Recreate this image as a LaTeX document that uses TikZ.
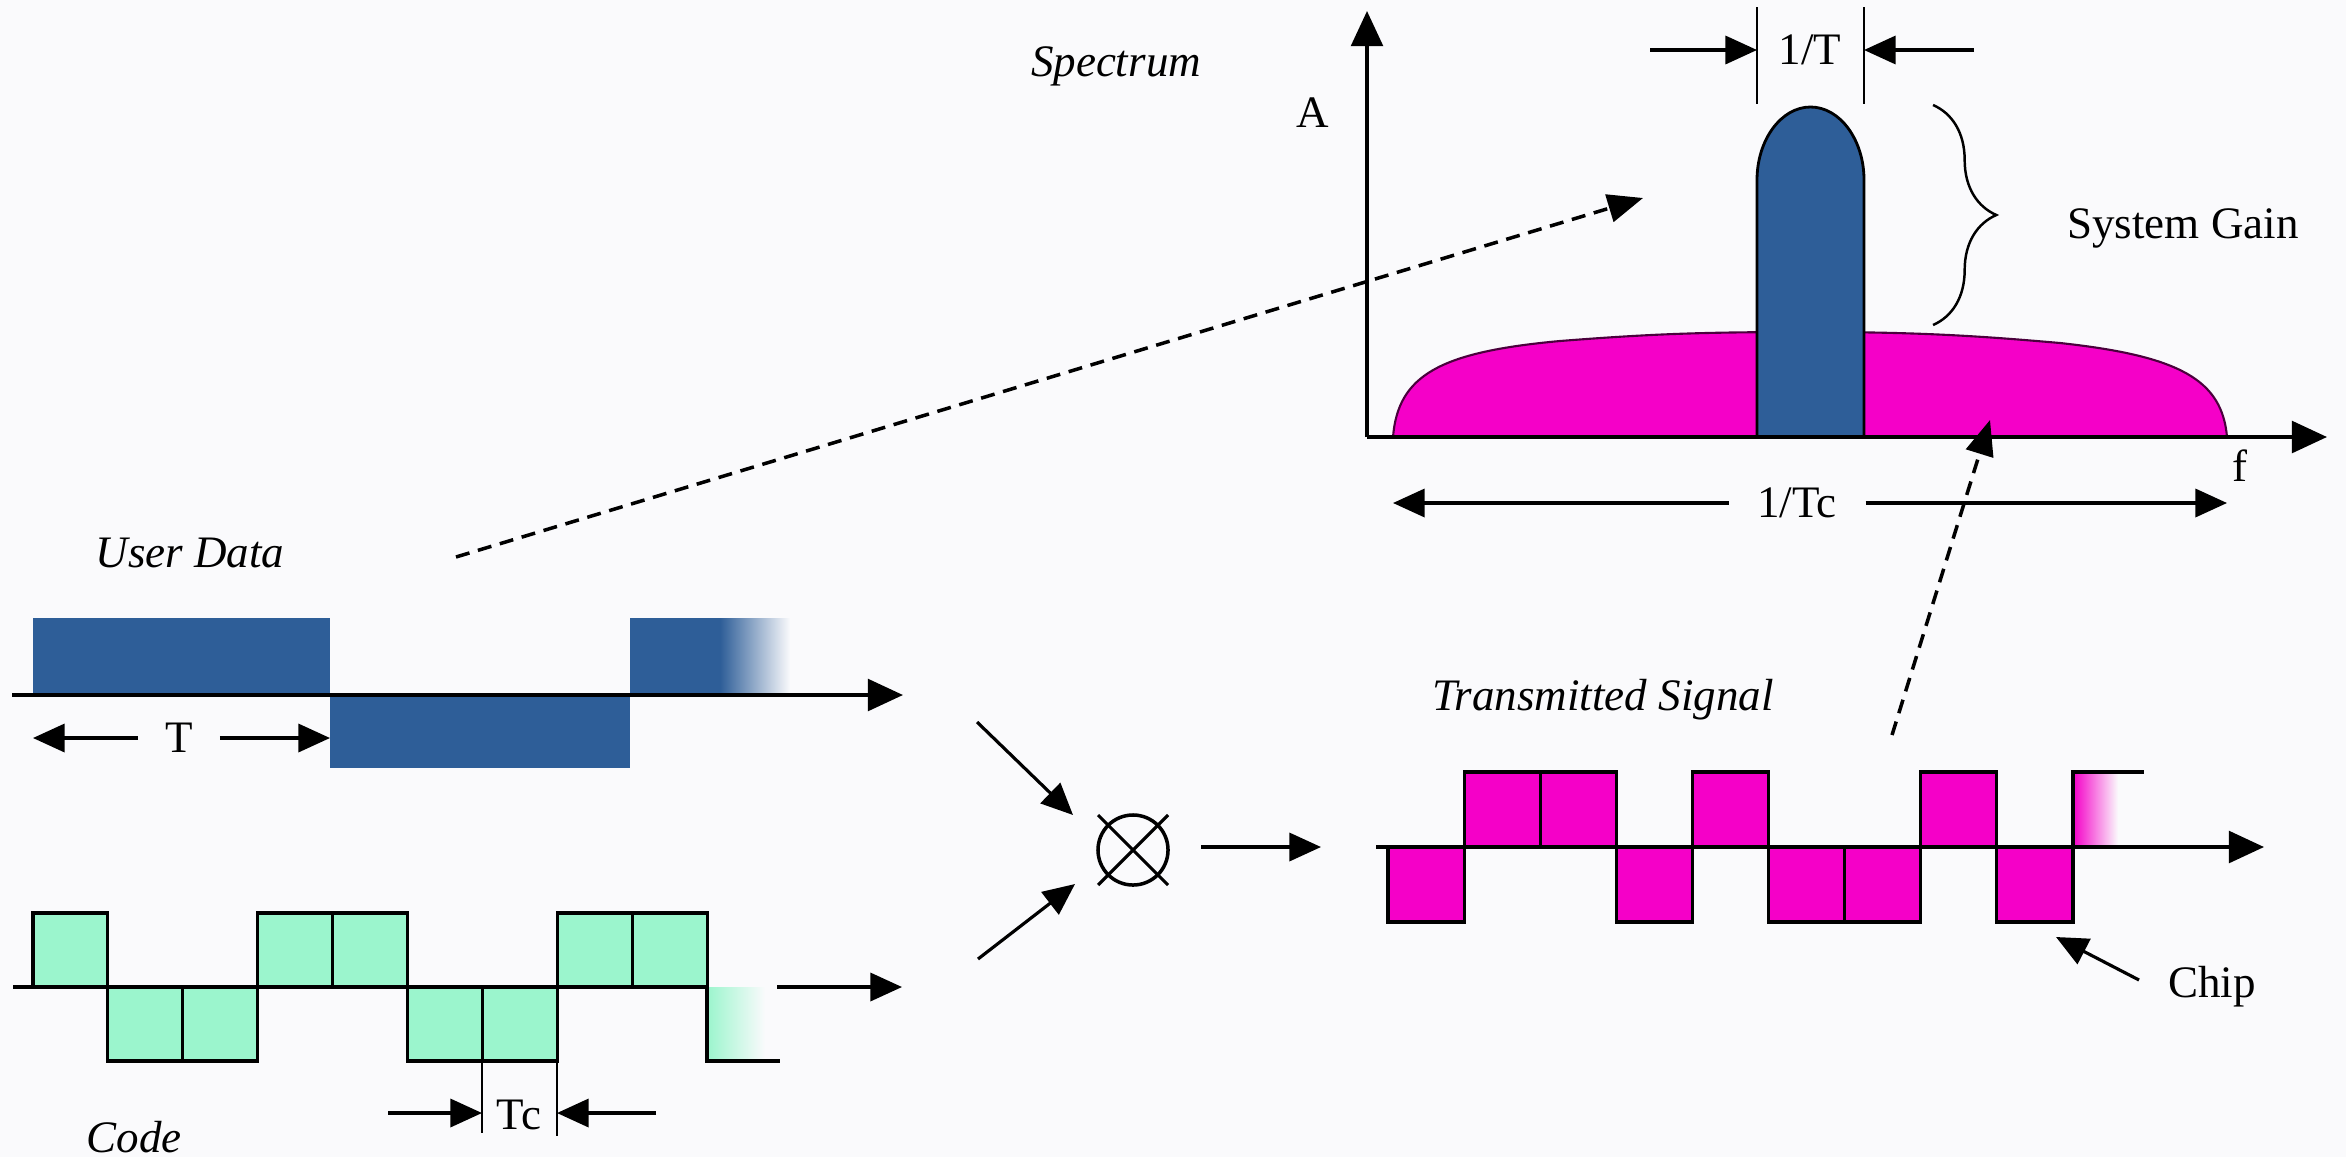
\documentclass[tikz,border=0pt]{standalone}
\usepackage{fontspec}
\setmainfont{Liberation Serif}
\usetikzlibrary{arrows.meta,decorations.pathreplacing}
\definecolor{dblue}{RGB}{46,94,152}
\definecolor{pinkc}{RGB}{245,0,200}
\definecolor{mint}{RGB}{155,245,205}
\definecolor{bgc}{RGB}{250,250,252}
\begin{document}
\begin{tikzpicture}[x=0.01cm,y=-0.01cm,
  axisarrow/.style={line width=1.1pt,-{Triangle[length=10pt,width=9pt]}},
  dimarrow/.style={line width=0.9pt,-{Triangle[length=9pt,width=8pt]}},
  lbl/.style={font=\fontsize{12.8}{15}\selectfont, inner sep=1pt},
  ilbl/.style={font=\fontsize{12.8}{15}\selectfont\itshape, inner sep=1pt},
  chipM/.style={fill=mint, draw=black, line width=0.9pt},
  chipP/.style={fill=pinkc, draw=black, line width=0.9pt},
  marker/.style={line width=0.8pt},
  dasharrow/.style={line width=1pt, dash pattern=on 4pt off 2.5pt, -{Triangle[length=10pt,width=8pt]}}]
\useasboundingbox (0,0) rectangle (2346,1157);
\fill[bgc] (0,0) rectangle (2346,1157);

% ---------------- Spectrum ----------------
\coordinate (O) at (1367,437);
\coordinate (fx) at (2327,437);
\coordinate (Ay) at (1367,11);
\path[fill=pinkc, draw=black!70!pinkc, line width=0.6pt]
  (1393,437) .. controls (1398,375) and (1440,352) .. (1560,341)
  .. controls (1650,334) and (1700,332) .. (1810,332)
  .. controls (1920,332) and (1980,336) .. (2060,343)
  .. controls (2180,356) and (2222,380) .. (2227,437) -- cycle;
\draw[fill=dblue, line width=0.8pt] (1757,437) -- (1757,180)
  .. controls (1757,140) and (1781,107) .. (1810.5,107)
  .. controls (1840,107) and (1864,140) .. (1864,180) -- (1864,437) -- cycle;
\draw[axisarrow] (O) -- (fx);
\draw[axisarrow] (O) -- (Ay);
\node[ilbl] (spec) at (1116,66) {Spectrum};
\node[lbl] (A) at (1313,113) {A};
\node[lbl] (f) at (2240,466) {f};

% 1/T marker
\draw[marker] (1757,7) -- (1757,104);
\draw[marker] (1864,7) -- (1864,104);
\node[lbl] (invT) at (1810,50) {1/T};
\coordinate (iTl0) at (1650,50); \coordinate (iTl1) at (1757,50);
\coordinate (iTr0) at (1974,50); \coordinate (iTr1) at (1864,50);
\draw[dimarrow] (iTl0) -- (iTl1);
\draw[dimarrow] (iTr0) -- (iTr1);

% System gain brace
\draw[line width=0.7pt, decorate, decoration={brace, amplitude=18pt, aspect=0.5}] (1933,105) -- (1933,325);
\node[lbl] (gain) at (2183,228) {System Gain};

% 1/Tc
\node[lbl, inner xsep=8pt] (invTc) at (1797,503) {1/Tc};
\coordinate (tcl) at (1393,503); \coordinate (tcr) at (2227,503);
\draw[dimarrow] (invTc.west) -- (tcl);
\draw[dimarrow] (invTc.east) -- (tcr);

% ---------------- User data ----------------
\fill[dblue] (33,618) rectangle (330,695);
\fill[dblue] (330,695) rectangle (630,768);
\fill[dblue] (630,618) rectangle (721,695);
\shade[left color=dblue, right color=bgc] (720,618) rectangle (790,695);
\coordinate (ud0) at (12,695); \coordinate (ud1) at (903,695);
\draw[axisarrow] (ud0) -- (ud1);
\node[ilbl] (udata) at (190,553) {User Data};
\node[lbl, inner xsep=7.5pt] (T) at (179,738) {T};
\coordinate (Tl) at (33,738); \coordinate (Tr) at (330,738);
\draw[dimarrow] (T.west) -- (Tl);
\draw[dimarrow] (T.east) -- (Tr);

% ---------------- Code ----------------
\foreach \i/\s in {0/1,1/-1,2/-1,3/1,4/1,5/-1,6/-1,7/1,8/1} {
  \draw[chipM] ({33+74.9*\i},987) rectangle ({33+74.9*(\i+1)},{987-74*\s});
}
\shade[left color=mint, right color=bgc] (707,987) rectangle (765,1061);
\draw[line width=0.9pt] (707,987) -- (707,1061) -- (780,1061);
\draw[line width=1pt] (13,987) -- (707,987);
\node[ilbl] (code) at (134,1137) {Code};
% Tc marker
\draw[marker] (482,987) -- (482,1133);
\draw[marker] (557,1061) -- (557,1136);
\node[lbl] (Tc) at (519,1115) {Tc};
\coordinate (tc0) at (388,1113); \coordinate (tc1) at (482,1113);
\coordinate (tc2) at (656,1113); \coordinate (tc3) at (557,1113);
\draw[dimarrow] (tc0) -- (tc1);
\draw[dimarrow] (tc2) -- (tc3);
\coordinate (ca0) at (777,987); \coordinate (ca1) at (902,987);
\draw[dimarrow] (ca0) -- (ca1);

% ---------------- Multiplier ----------------
\node[circle, draw, line width=1pt, minimum size=0.7cm, inner sep=0pt] (mul) at (1133,850) {};
\draw[line width=0.9pt] (1098,815) -- (1168,885);
\draw[line width=0.9pt] (1098,885) -- (1168,815);
\coordinate (m1a) at (977,722); \coordinate (m1b) at (1073,815);
\coordinate (m2a) at (978,959); \coordinate (m2b) at (1075,884);
\coordinate (m3a) at (1201,847); \coordinate (m3b) at (1321,847);
\draw[dimarrow] (m1a) -- (m1b);
\draw[dimarrow] (m2a) -- (m2b);
\draw[dimarrow] (m3a) -- (m3b);

% ---------------- Transmitted signal ----------------
\foreach \i/\s in {0/-1,1/1,2/1,3/-1,4/1,5/-1,6/-1,7/1,8/-1} {
  \draw[chipP] ({1388+76.1*\i},847) rectangle ({1388+76.1*(\i+1)},{847-75*\s});
}
\shade[left color=pinkc, right color=bgc] (2073,847) rectangle (2118,772);
\draw[line width=0.9pt] (2073,847) -- (2073,772) -- (2144,772);
\coordinate (tx0) at (1376,847); \coordinate (tx1) at (2264,847);
\draw[axisarrow] (tx0) -- (tx1);
\node[ilbl] (tsig) at (1603,700) {Transmitted Signal};
\node[lbl] (chip) at (2212,987) {Chip};
\coordinate (ch0) at (2139,980); \coordinate (ch1) at (2056,937);
\draw[dimarrow] (ch0) -- (ch1);

% ---------------- Dashed links ----------------
\coordinate (d1a) at (456,557); \coordinate (d1b) at (1643,198);
\coordinate (d2a) at (1892,735); \coordinate (d2b) at (1990,420);
\draw[dasharrow] (d1a) -- (d1b);
\draw[dasharrow] (d2a) -- (d2b);
\end{tikzpicture}
\end{document}
